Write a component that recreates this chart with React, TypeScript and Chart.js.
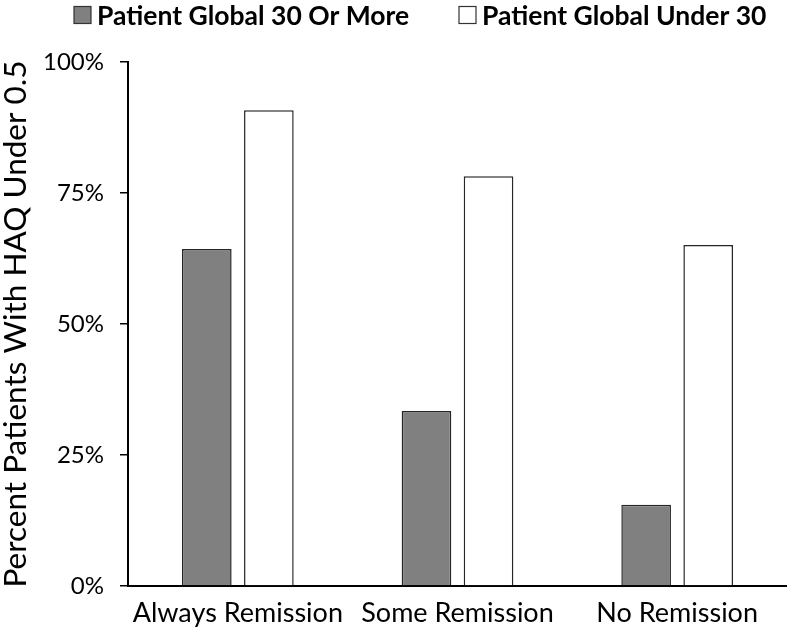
import React, { useEffect, useRef } from "react";
import { Chart, registerables } from "chart.js";

Chart.register(...registerables);

const categories = ["Always Remission", "Some Remission", "No Remission"];
const seriesNames = ["Patient Global 30 Or More", "Patient Global Under 30"];
const globalHighValues = [64.3, 33.4, 15.5];
const globalLowValues = [90.8, 78.2, 65.1];
const yTickValues = [0, 25, 50, 75, 100];
const yAxisTitle = "Percent Patients With HAQ Under 0.5";

const FONT = "Lato, 'Open Sans', sans-serif";
const fills = ["#808080", "#ffffff"];
const legendStarts = [74, 459];

const legendPlugin = {
  id: "customLegend",
  afterDraw(chart: any) {
    const ctx = chart.ctx as CanvasRenderingContext2D;
    ctx.save();
    ctx.font = `bold 26.5px ${FONT}`;
    ctx.textBaseline = "middle";
    const cy = 15;
    const box = 17;
    seriesNames.forEach((name, i) => {
      const x = legendStarts[i];
      ctx.fillStyle = fills[i];
      ctx.fillRect(x, cy - box / 2, box, box);
      ctx.strokeStyle = "#333";
      ctx.lineWidth = 1.2;
      ctx.strokeRect(x, cy - box / 2, box, box);
      ctx.fillStyle = "#000";
      ctx.fillText(name, x + box + 6, cy + 1);
    });
    ctx.restore();
  },
};

export default function App() {
  const ref = useRef<HTMLCanvasElement | null>(null);
  useEffect(() => {
    if (!ref.current) return;
    const chart = new Chart(ref.current, {
      type: "bar",
      data: {
        labels: categories,
        datasets: [
          {
            label: seriesNames[0],
            data: globalHighValues,
            backgroundColor: fills[0],
            borderColor: "#262626",
            borderWidth: 1.5,
            categoryPercentage: 0.565,
            barPercentage: 0.8,
          },
          {
            label: seriesNames[1],
            data: globalLowValues,
            backgroundColor: fills[1],
            borderColor: "#262626",
            borderWidth: 1.5,
            categoryPercentage: 0.565,
            barPercentage: 0.8,
          },
        ],
      },
      options: {
        responsive: false,
        animation: false,
        layout: { padding: { top: 62, left: 0, right: 0, bottom: 0 } },
        plugins: {
          legend: { display: false },
          tooltip: { enabled: false },
        },
        scales: {
          x: {
            grid: { display: false, drawTicks: false },
            border: { display: true, color: "#000", width: 2 },
            ticks: {
              color: "#000",
              font: { family: FONT, size: 27 },
              padding: 11,
              maxRotation: 0,
            },
            afterFit: (scale: any) => {
              scale.height = 52;
            },
          },
          y: {
            min: 0,
            max: 100,
            afterBuildTicks: (scale: any) => {
              scale.ticks = yTickValues.map((v) => ({ value: v }));
            },
            grid: {
              drawOnChartArea: false,
              drawTicks: true,
              tickLength: 8,
              color: "#000",
              lineWidth: 1.5,
            },
            border: { display: true, color: "#000", width: 2 },
            ticks: {
              color: "#000",
              font: { family: FONT, size: 24 },
              padding: 16,
              callback: (v: any) => `${v}%`,
            },
            title: {
              display: true,
              text: yAxisTitle,
              color: "#000",
              font: { family: FONT, size: 31.5 },
              padding: { top: -3, bottom: 0 },
            },
            afterFit: (scale: any) => {
              scale.width = 128;
            },
          },
        },
      },
      plugins: [legendPlugin],
    });
    return () => chart.destroy();
  }, []);
  return (
    <div style={{ position: "absolute", left: 0, top: 0, width: 787, height: 638, background: "#fff" }}>
      <canvas ref={ref} width={787} height={638} />
    </div>
  );
}
